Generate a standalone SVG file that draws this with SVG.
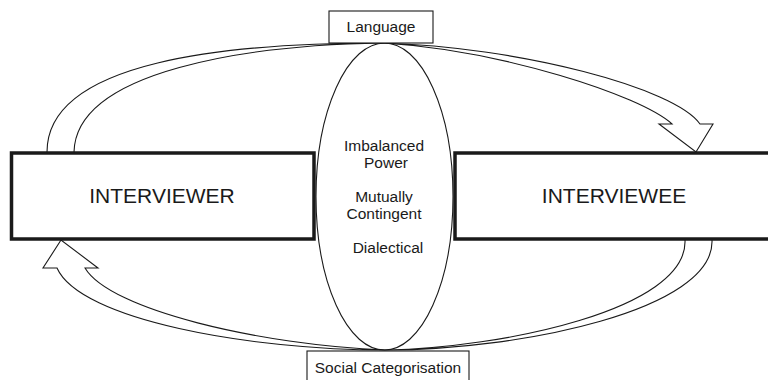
<svg xmlns="http://www.w3.org/2000/svg" width="768" height="380" viewBox="0 0 768 380">
  <style>
    .party { fill: #ffffff; stroke: #1a1a1a; stroke-width: 3.5; }
    .label-box { fill: #ffffff; stroke: #1a1a1a; stroke-width: 1.1; }
    .big { font-family: "Liberation Sans", Arial, sans-serif; font-size: 21px; fill: #1a1a1a; text-anchor: middle; }
    .small { font-family: "Liberation Sans", Arial, sans-serif; font-size: 15.5px; fill: #1a1a1a; text-anchor: middle; }
    .flow { fill: none; stroke: #1a1a1a; stroke-width: 1.1; stroke-linejoin: miter; }
  </style>
  <rect width="768" height="380" fill="#ffffff"/>

  <!-- central relationship ellipse -->
  <g id="relationship">
    <ellipse cx="384.5" cy="196.5" rx="68.5" ry="153.5" fill="none" stroke="#1a1a1a" stroke-width="1.1"/>
    <text class="small" x="384" y="151">Imbalanced</text>
    <text class="small" x="386" y="168">Power</text>
    <text class="small" x="384" y="202">Mutually</text>
    <text class="small" x="384" y="219">Contingent</text>
    <text class="small" x="388" y="253">Dialectical</text>
  </g>

  <!-- hollow flow arrows -->
  <g id="connectors">
    <!-- interviewer to interviewee via Language -->
    <path class="flow" d="M47,152 C47,60 230,43 383,43 C520,47 675,88 700,124 L713,124 L696,152 L659,124 L672,124 C640,95 500,50 383,43 C250,45 76,70 74,152"/>
    <!-- interviewee to interviewer via Social Categorisation -->
    <path class="flow" d="M712,240 C715,310 520,350 386,350 C250,350 80,320 57,268 L43,268 L61,240 L98,268 L85,268 C110,310 260,345 386,350 C500,348 688,310 685,240"/>
  </g>

  <g id="language">
    <rect class="label-box" x="329" y="11" width="104" height="32"/>
    <text class="small" x="381" y="32">Language</text>
  </g>

  <g id="social-categorisation">
    <rect class="label-box" x="307" y="351" width="162" height="40"/>
    <text class="small" x="388" y="373">Social Categorisation</text>
  </g>

  <g id="interviewer">
    <rect class="party" x="11.5" y="153" width="302.5" height="86"/>
    <text class="big" x="162" y="203">INTERVIEWER</text>
  </g>

  <g id="interviewee">
    <rect class="party" x="455" y="153" width="330" height="86"/>
    <text class="big" x="614" y="203">INTERVIEWEE</text>
  </g>
</svg>
